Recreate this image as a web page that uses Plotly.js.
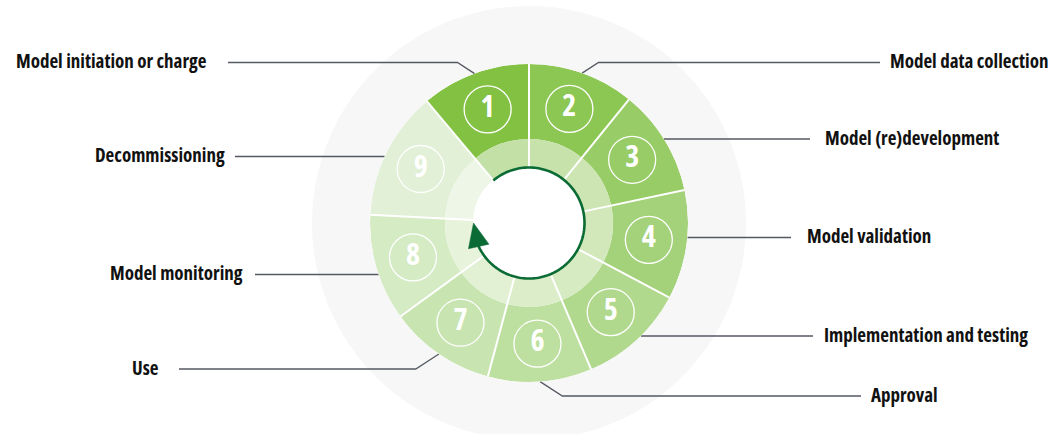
<!DOCTYPE html>
<html><head><meta charset="utf-8">
<script src="https://cdn.plot.ly/plotly-3.0.1.min.js"></script>
<style>html,body{margin:0;padding:0;background:#fff;}#chart{width:1048px;height:434px;}
svg text{font-stretch:75%;}</style>
</head><body><div id="chart"></div>
<script>
// ---------------- data ----------------
const stages = ["Model initiation or charge", "Model data collection", "Model (re)development",
  "Model validation", "Implementation and testing", "Approval", "Use",
  "Model monitoring", "Decommissioning"];
const stepLabels = ["1", "2", "3", "4", "5", "6", "7", "8", "9"];
const sweepDeg = [40, 39, 39, 40, 39, 38, 39, 39, 47];   // angular size of each stage
const firstStageStart = 320;                               // degrees clockwise from top

// ---------------- styles ----------------
const outerColors = ["#82c142", "#8cc653", "#98cc66", "#a4d27a", "#b1d98d", "#bde0a0", "#c8e5b1", "#d4ebc4", "#e1f0d6"];
const innerColors = ["#c3e0a6", "#c7e2ab", "#cde5b3", "#d2e8bb", "#d7ebc3", "#dcedca", "#e2f0d3", "#e8f3dc", "#eef6e8"];
const FONT = '"Open Sans", "Liberation Sans", sans-serif';
const W = 1048, H = 434, CX = 529, CY = 223;
const R_OUT = 159, R_MID = 84, R_IN = 56, R_BG = 217, R_NUM = 121, R_ARC = 55.5;
const labelLayout = [
  {side: 'left',  y: 62.5,  lineEnd: 228, textEdge: 209, elbow: true},
  {side: 'right', y: 62.5,  lineEnd: 880, textEdge: 888, elbow: true},
  {side: 'right', y: 139,   lineEnd: 810, textEdge: 823, elbow: false},
  {side: 'right', y: 237.5, lineEnd: 791, textEdge: 805, elbow: false},
  {side: 'right', y: 336,   lineEnd: 813, textEdge: 822, elbow: false},
  {side: 'right', y: 396,   lineEnd: 861, textEdge: 869, elbow: true},
  {side: 'left',  y: 369,   lineEnd: 179, textEdge: 161, elbow: true},
  {side: 'left',  y: 274.5, lineEnd: 255, textEdge: 245, elbow: false},
  {side: 'left',  y: 156.5, lineEnd: 235, textEdge: 227, elbow: false}
];
const TEXT_DY = -1.2;

// ---------------- geometry from data ----------------
const starts = [], mids = [];
let acc = firstStageStart;
sweepDeg.forEach(s => { starts.push(acc % 360); mids.push((acc + s / 2) % 360); acc += s; });
const rad = d => d * Math.PI / 180;
const px = (deg, r) => [CX + r * Math.sin(rad(deg)), CY - r * Math.cos(rad(deg))];
const toPolar = (dx, dyUp) => ({r: Math.hypot(dx, dyUp), t: (Math.atan2(dx, dyUp) * 180 / Math.PI + 360) % 360});

const traces = [];

// outer ring
traces.push({type: 'barpolar', theta: mids, width: sweepDeg, base: stages.map(() => R_MID),
  r: stages.map(() => R_OUT - R_MID), marker: {color: outerColors, line: {width: 0}},
  hoverinfo: 'text', text: stages, showlegend: false});
// inner ring
traces.push({type: 'barpolar', theta: mids, width: sweepDeg, base: stages.map(() => R_IN),
  r: stages.map(() => R_MID - R_IN), marker: {color: innerColors, line: {width: 0}},
  hoverinfo: 'skip', showlegend: false});
// white separators
const sepR = [], sepT = [];
starts.forEach(a => { sepR.push(R_IN, R_OUT, null); sepT.push(a, a, null); });
traces.push({type: 'scatterpolar', mode: 'lines', r: sepR, theta: sepT,
  line: {color: '#ffffff', width: 2}, hoverinfo: 'skip', showlegend: false});
// circular arrow
const arcT = [], arcR = [];
for (let t = 320; t <= 250 + 360; t += 2) { arcT.push(t % 360); arcR.push(R_ARC); }
traces.push({type: 'scatterpolar', mode: 'lines', r: arcR, theta: arcT,
  line: {color: '#0b6b35', width: 2.6}, hoverinfo: 'skip', showlegend: false});
// arrow head
(function () {
  const tip = [R_ARC * Math.sin(rad(270)), R_ARC * Math.cos(rad(270))];
  const bc = [R_ARC * Math.sin(rad(245)), R_ARC * Math.cos(rad(245))];
  const v = [tip[0] - bc[0], tip[1] - bc[1]];
  const len = Math.hypot(v[0], v[1]);
  const n = [v[1] / len, -v[0] / len];
  const hw = 10.5;
  const pts = [tip, [bc[0] + n[0] * hw, bc[1] + n[1] * hw], [bc[0] - n[0] * hw, bc[1] - n[1] * hw], tip].map(p => toPolar(p[0], p[1]));
  traces.push({type: 'scatterpolar', mode: 'lines', fill: 'toself', fillcolor: '#0b6b35',
    r: pts.map(p => p.r), theta: pts.map(p => p.t), line: {color: '#0b6b35', width: 0.5},
    hoverinfo: 'skip', showlegend: false});
})();
// numbered circles
traces.push({type: 'scatterpolar', mode: 'markers+text', r: stages.map(() => R_NUM), theta: mids,
  text: stepLabels, textposition: 'middle center',
  textfont: {family: FONT, size: 30, color: '#ffffff', weight: 'bold'},
  marker: {symbol: 'circle-open', size: 47, color: '#ffffff', line: {width: 1.3}},
  hoverinfo: 'skip', showlegend: false});

// leader lines (pixel-scaled cartesian overlay)
const lx = [], ly = [];
labelLayout.forEach((L, i) => {
  const sgn = L.side === 'left' ? -1 : 1;
  if (L.elbow) {
    const s = px(mids[i], R_OUT);
    const dy = L.y - s[1];
    const ex = s[0] + sgn * Math.abs(dy) * 1.55;
    lx.push(s[0], ex, L.lineEnd, null); ly.push(s[1], L.y, L.y, null);
  } else {
    const dx = Math.sqrt(R_OUT * R_OUT - (L.y - CY) * (L.y - CY));
    lx.push(CX + sgn * dx, L.lineEnd, null); ly.push(L.y, L.y, null);
  }
});
traces.push({type: 'scatter', mode: 'lines', x: lx, y: ly, xaxis: 'x', yaxis: 'y',
  line: {color: '#555a62', width: 1.3}, hoverinfo: 'skip', showlegend: false});

const annotations = stages.map((s, i) => ({
  text: s, x: labelLayout[i].textEdge, y: labelLayout[i].y + TEXT_DY, xref: 'x', yref: 'y',
  xanchor: labelLayout[i].side === 'left' ? 'right' : 'left', yanchor: 'middle',
  showarrow: false, font: {family: FONT, size: 19, color: '#111111', weight: 'bold'}
}));

const layout = {
  width: W, height: H, margin: {l: 0, r: 0, t: 0, b: 0},
  paper_bgcolor: '#ffffff', plot_bgcolor: 'rgba(0,0,0,0)', showlegend: false,
  xaxis: {range: [0, W], visible: false, fixedrange: true, domain: [0, 1]},
  yaxis: {range: [H, 0], visible: false, fixedrange: true, domain: [0, 1]},
  polar: {
    domain: {x: [(CX - R_OUT) / W, (CX + R_OUT) / W], y: [(H - CY - R_OUT) / H, (H - CY + R_OUT) / H]},
    bgcolor: '#ffffff', bargap: 0, hole: 0,
    radialaxis: {range: [0, R_OUT], visible: false, showgrid: false, showline: false, showticklabels: false, ticks: ''},
    angularaxis: {rotation: 90, direction: 'clockwise', visible: false, showgrid: false, showline: false, showticklabels: false, ticks: ''}
  },
  shapes: [{type: 'circle', xref: 'x', yref: 'y', x0: CX - R_BG, x1: CX + R_BG, y0: CY - R_BG, y1: CY + R_BG,
    fillcolor: '#f7f7f7', line: {width: 0}, layer: 'below'}],
  annotations: annotations
};

Plotly.newPlot('chart', traces, layout, {displayModeBar: false, staticPlot: true});
</script></body></html>
